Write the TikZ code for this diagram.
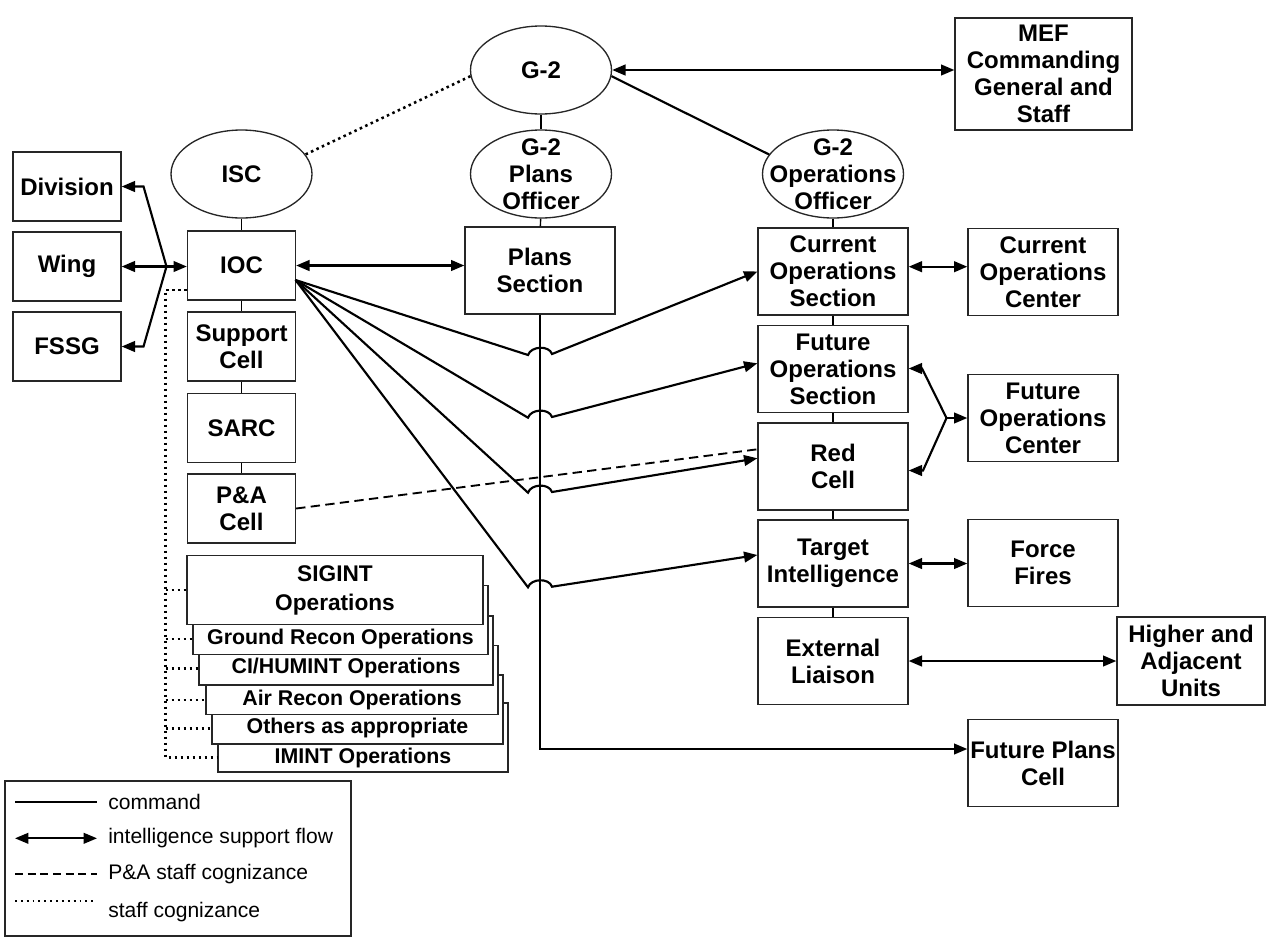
\documentclass[tikz,border=0pt]{standalone}
\usepackage{fontspec}
\setmainfont{Liberation Sans}
\usetikzlibrary{shapes.geometric,arrows.meta,calc}

\begin{document}
\begin{tikzpicture}[x=0.75pt,y=0.75pt,yscale=-1,xscale=1,
  font=\fontsize{18}{20.25}\selectfont\bfseries,
  unit/.style={draw=black!85,line width=1pt,fill=white,rectangle,inner sep=0pt,align=center},
  cell/.style={unit,minimum width=81pt,minimum height=51.75pt},
  section/.style={unit,minimum width=112.5pt,minimum height=65.25pt},
  stackbox/.style={unit,minimum height=51.75pt},
  officer/.style={ellipse,draw=black!85,line width=1pt,fill=white,inner sep=0pt,minimum width=105.75pt,minimum height=66pt},
  link/.style={line width=1.1pt},
  command/.style={line width=1.6pt},
  flow/.style={command,arrows={Triangle[length=10pt,width=8pt]-Triangle[length=10pt,width=8pt]}},
  oneway/.style={command,arrows={-Triangle[length=10pt,width=8pt]}},
  pacog/.style={line width=1.4pt,dash pattern=on 7pt off 4pt},
  staffcog/.style={line width=1.9pt,dash pattern=on 1.9pt off 2.6pt},
  stacktext/.style={font=\fontsize{16}{19}\selectfont\bfseries,inner sep=0pt},
  legendtext/.style={font=\fontsize{15.8}{19}\selectfont,anchor=west,inner sep=0pt}]
\useasboundingbox (0,0) rectangle (1266,939);

% Ovals
\node[officer] (g2) at (541,70) {G-2};
\node[officer,label={[align=center]center:{G-2\\Plans\\Officer}}] (g2plans) at (541,174) {};
\node[officer,label={[align=center]center:{G-2\\Operations\\Officer}}] (g2ops) at (833,174) {};
\node[officer] (isc) at (241.5,174) {ISC};

% Left column
\node[cell] (division) at (67,186.5) {Division};
\node[cell] (wing) at (67,266.5) {Wing};
\node[cell] (fssg) at (67,346.5) {FSSG};
\node[cell] (ioc) at (241.5,265.5) {IOC};
\node[cell] (support) at (241.5,346.5) {Support\\Cell};
\node[cell] (sarc) at (241.5,428) {SARC};
\node[cell] (pacell) at (241.5,508.5) {P\&A\\Cell};

% Plans
\node[section] (plans) at (540,270.5) {Plans\\Section};

% Right column
\node[section] (curops) at (833,271.5) {Current\\Operations\\Section};
\node[section] (futops) at (833,369) {Future\\Operations\\Section};
\node[section] (redcell) at (833,466.5) {Red\\Cell};
\node[section] (target) at (833,563.5) {Target\\Intelligence};
\node[section] (extliaison) at (833,661) {External\\Liaison};
\node[section] (curopc) at (1043,272) {Current\\Operations\\Center};
\node[section] (futopc) at (1043,418) {Future\\Operations\\Center};
\node[section] (fires) at (1043,563) {Force\\Fires};
\node[section] (futplans) at (1043,763) {Future Plans\\Cell};
\node[unit,minimum width=132.75pt,minimum height=84pt] (mef) at (1043.5,74) {MEF\\Commanding\\General and\\Staff};
\node[unit,minimum width=111pt,minimum height=66pt] (higher) at (1191,661) {Higher and\\Adjacent\\Units};

% Stacked operations boxes, back to front
\node[stackbox,minimum width=217.5pt] (imint) at (363,737.5) {};
\node[stackbox,minimum width=218.25pt] (others) at (357.5,709.5) {};
\node[stackbox,minimum width=219pt] (airrecon) at (352,680) {};
\node[stackbox,minimum width=220.5pt] (cihumint) at (346,650.5) {};
\node[stackbox,minimum width=221.25pt] (gndrecon) at (340.5,620) {};
\node[stackbox,minimum width=222pt,font=\fontsize{17}{21.75}\selectfont\bfseries] (sigint) at (335,590) {SIGINT\\Operations};
\node[stacktext] (gndtext) at (340.5,639) {Ground Recon Operations};
\node[stacktext] (citext) at (346,668.3) {CI/HUMINT Operations};
\node[stacktext] (airtext) at (352,700) {Air Recon Operations};
\node[stacktext] (othtext) at (357.5,728.3) {Others as appropriate};
\node[stacktext] (imtext) at (363,757.5) {IMINT Operations};

% Command lines
\draw[link] (g2) -- (g2plans);
\draw[link] (g2plans) -- (plans);
\draw[link] (g2ops) -- (curops);
\draw[link] (curops) -- (futops);
\draw[link] (futops) -- (redcell);
\draw[link] (redcell) -- (target);
\draw[link] (target) -- (extliaison);
\draw[link] (isc) -- (ioc);
\draw[link] (ioc) -- (support);
\draw[link] (support) -- (sarc);
\draw[link] (sarc) -- (pacell);
\draw[command] (g2.-5) -- (g2ops.163);

% Staff cognizance
\draw[staffcog] (g2.185) -- (isc.17);
\coordinate (cogtop) at (165.5,290);
\draw[staffcog] (cogtop -| ioc.west) -- (cogtop) |- (imtext -| imint.west);
\draw[staffcog] (cogtop |- sigint.west) -- (sigint.west);
\draw[staffcog] (cogtop |- gndtext) -- (gndtext -| gndrecon.west);
\draw[staffcog] (cogtop |- citext) -- (citext -| cihumint.west);
\draw[staffcog] (cogtop |- airtext) -- (airtext -| airrecon.west);
\draw[staffcog] (cogtop |- othtext) -- (othtext -| others.west);

% Intelligence support flow
\draw[flow] (g2.east) -- (g2.east -| mef.west);
\draw[flow] (wing.east) -- (wing.east -| ioc.west);
\coordinate (wfork) at (166.5,266.5);
\coordinate (divbend) at (143.5,186.5);
\coordinate (fssgbend) at (143.5,346.5);
\draw[oneway] (wfork) -- (divbend) -- (division.east);
\draw[oneway] (wfork) -- (fssgbend) -- (fssg.east);
\draw[flow] (ioc.east) -- (ioc.east -| plans.west);
\draw[flow] ($(curops.east)+(0,-4.8)$) -- ($(curopc.west)+(0,-5.3)$);
\draw[flow] (target.east) -- (target.east -| fires.west);
\draw[flow] (extliaison.east) -- (extliaison.east -| higher.west);
\coordinate (focfork) at (946.5,418);
\coordinate (fosbend) at (922,368.5);
\coordinate (rcbend) at (923,470.5);
\draw[oneway] (focfork) -- (focfork -| futopc.west);
\draw[oneway] (focfork) -- (fosbend) -- (fosbend -| futops.east);
\draw[oneway] (focfork) -- (rcbend) -- (rcbend -| redcell.east);

% IOC fan with line jumps over the plans line
\draw[oneway] (plans.south) |- ($(futplans.west)+(0,-14)$);
\coordinate (fan) at (295.5,280);
\coordinate (hop1a) at (528,355);
\coordinate (hop1b) at (552,354);
\coordinate (hop2a) at (528,417.7);
\coordinate (hop2b) at (552,417);
\coordinate (hop3a) at (528,492.7);
\coordinate (hop3b) at (552,492);
\coordinate (hop4a) at (528,587.3);
\coordinate (hop4b) at (552,586.7);
\draw[oneway] (fan) -- (hop1a) .. controls +(3,-9) and +(-3,-9) .. (hop1b) -- (curops.west);
\draw[oneway] (fan) -- (hop2a) .. controls +(3,-9) and +(-3,-9) .. (hop2b) -- ($(futops.west)+(0,-5.7)$);
\draw[oneway] (fan) -- (hop3a) .. controls +(3,-9) and +(-3,-9) .. (hop3b) -- ($(redcell.west)+(0,-8.2)$);
\draw[oneway] (fan) -- (hop4a) .. controls +(3,-9) and +(-3,-9) .. (hop4b) -- ($(target.west)+(0,-8.5)$);

% P&A staff cognizance
\draw[pacog] (pacell.east) -- ($(redcell.west)+(0,-17.2)$);

% Legend
\draw[draw=black!85,line width=1pt] (5,781) rectangle (351,936);
\node[legendtext] (lgcmd) at (108,801.7) {command};
\node[legendtext] (lgflow) at (108,838.3) {intelligence support flow};
\node[legendtext] (lgpa) at (108,874.3) {P\&A staff cognizance};
\node[legendtext] (lgstaff) at (108,911.7) {staff cognizance};
\coordinate (lg1) at (15,801.7);
\coordinate (lg2) at (15,838.3);
\coordinate (lg3) at (15,874.3);
\coordinate (lg4) at (15,901);
\draw[line width=1.3pt] (lg1) -- ++(82,0);
\draw[line width=1.3pt,arrows={Triangle[length=10pt,width=8pt]-Triangle[length=10pt,width=8pt]}] (lg2) -- ++(82,0);
\draw[line width=1.3pt,dash pattern=on 6pt off 3.5pt] (lg3) -- ++(82,0);
\draw[line width=1.4pt,dash pattern=on 1.4pt off 3pt] (lg4) -- ++(82,0);

\end{tikzpicture}
\end{document}
